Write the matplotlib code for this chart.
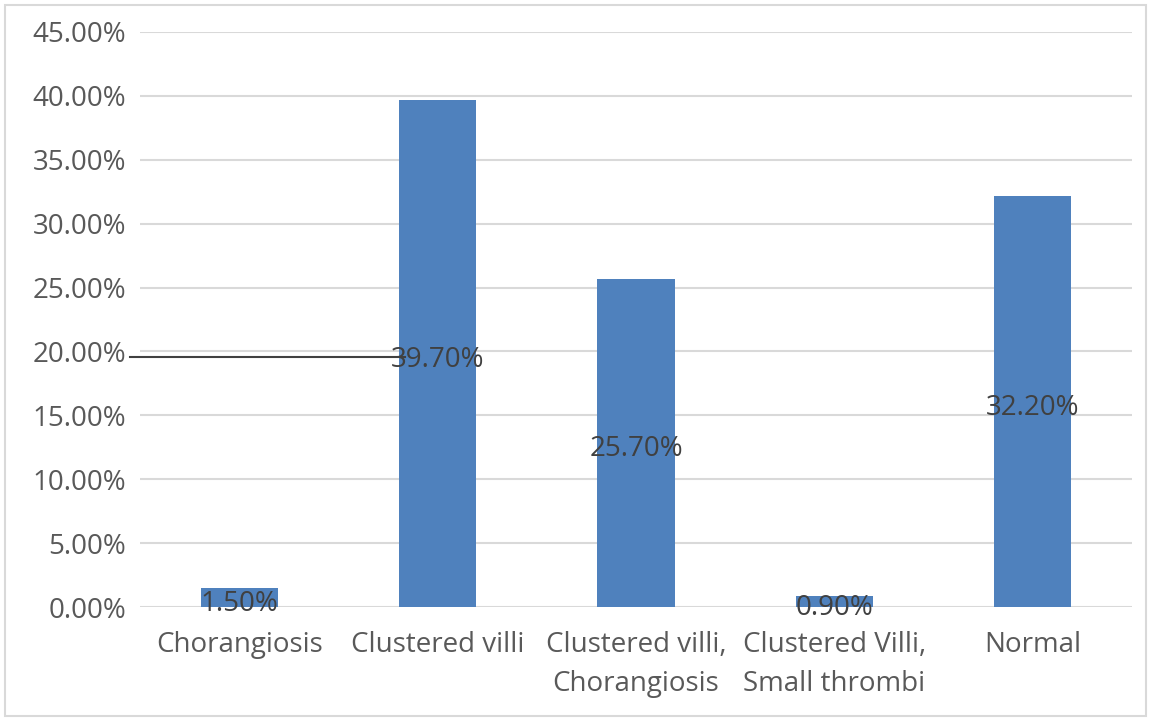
import matplotlib
matplotlib.use('Agg')
from matplotlib import pyplot as plt
from matplotlib.patches import Rectangle
from matplotlib.lines import Line2D
from matplotlib.ticker import FuncFormatter

categories = ["Chorangiosis", "Clustered villi", "Clustered villi,\nChorangiosis",
              "Clustered Villi,\nSmall thrombi", "Normal"]
values = [0.015, 0.397, 0.257, 0.009, 0.322]
y_ticks = [0.0, 0.05, 0.10, 0.15, 0.20, 0.25, 0.30, 0.35, 0.40, 0.45]

plt.rcParams['font.family'] = ['Open Sans', 'DejaVu Sans']

fig = plt.figure(figsize=(11.51, 7.21), dpi=100)
ax = fig.add_axes([140 / 1151, 114 / 721, 992 / 1151, 575 / 721])

x = list(range(len(categories)))
bars = ax.bar(x, values, width=0.39, color="#4F81BD", zorder=2)

for b, v in zip(bars, values):
    ax.annotate(f"{v * 100:.2f}%", (b.get_x() + b.get_width() / 2, v / 2),
                xytext=(0, -2), textcoords="offset points",
                ha="center", va="center_baseline", fontsize=20, color="#404040", zorder=3)

ax.set_xlim(-0.5, len(categories) - 0.5)
ax.set_ylim(0, 0.45)
ax.set_yticks(y_ticks)
ax.yaxis.set_major_formatter(FuncFormatter(lambda v, _: f"{v * 100:.2f}%"))
ax.set_xticks(x)
ax.set_xticklabels(categories, linespacing=1.55)
ax.tick_params(axis="both", length=0, labelsize=20, labelcolor="#595959")
ax.tick_params(axis="y", pad=10)
ax.tick_params(axis="x", pad=17)
ax.grid(axis="y", color="#D9D9D9", linewidth=1.5, zorder=0)
ax.set_axisbelow(True)
for s in ax.spines.values():
    s.set_visible(False)

# stray leader line running from the axis to the second label
fig.add_artist(Line2D([130 / 1151, 405 / 1151], [(721 - 357) / 721] * 2,
                      color="#404040", linewidth=1.5))

# chart border
fig.add_artist(Rectangle((5 / 1151, 5 / 721), 1141 / 1151, 711 / 721,
                         fill=False, edgecolor="#D9D9D9", linewidth=1.5))

fig.savefig("out.png", dpi=100)
